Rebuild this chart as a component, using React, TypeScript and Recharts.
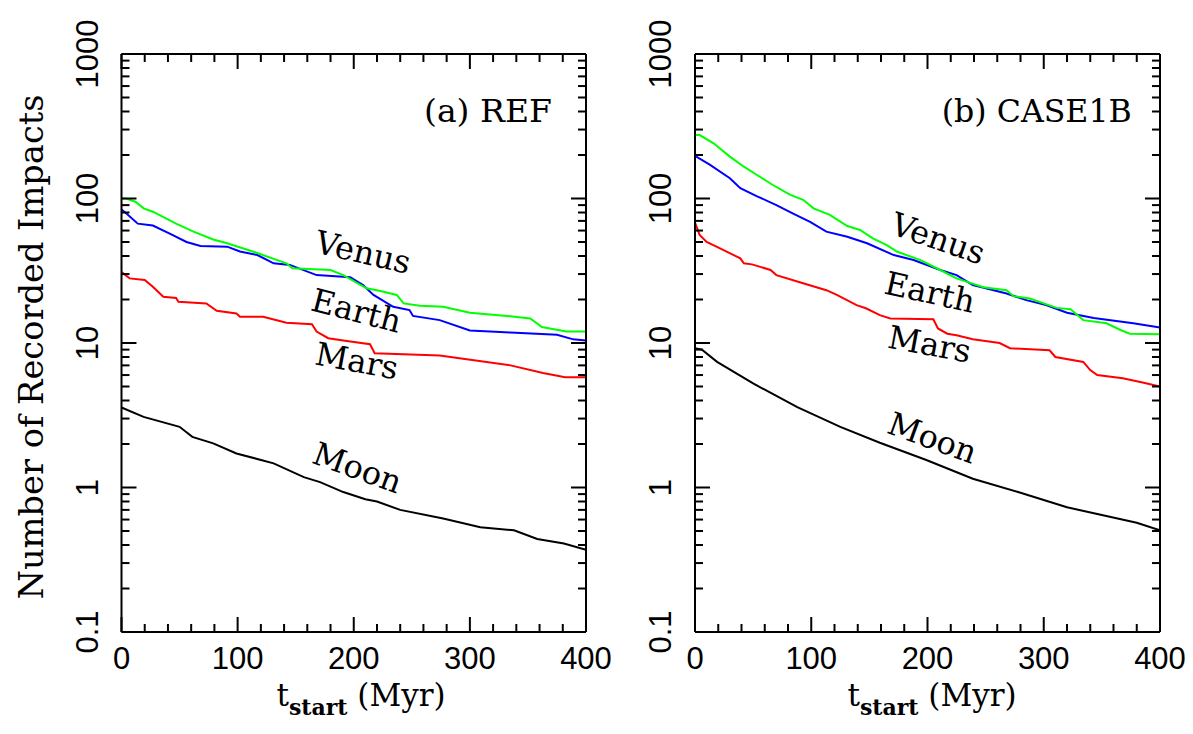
import { LineChart, Line, XAxis, YAxis, ReferenceDot } from 'recharts'

type Pt = { t: number; n: number }

// (a) REF
const refVenus: Pt[] = [
  { t: 0, n: 100 }, { t: 4, n: 100 }, { t: 12, n: 95 }, { t: 19, n: 85.5 }, { t: 27, n: 81 },
  { t: 47, n: 67 }, { t: 62, n: 59 }, { t: 79, n: 52 }, { t: 91, n: 49 }, { t: 113, n: 43 },
  { t: 142, n: 35.6 }, { t: 147, n: 32.9 }, { t: 180, n: 32 }, { t: 191, n: 29.5 }, { t: 211, n: 23.9 },
  { t: 223, n: 22.9 }, { t: 237, n: 21.5 }, { t: 243, n: 18.8 }, { t: 257, n: 18.1 }, { t: 277, n: 17.8 },
  { t: 300, n: 16.2 }, { t: 332, n: 15.4 }, { t: 352, n: 14.8 }, { t: 362, n: 12.9 }, { t: 383, n: 12 },
  { t: 400, n: 12 },
]
const refEarth: Pt[] = [
  { t: 0, n: 84 }, { t: 4, n: 79 }, { t: 14, n: 67 }, { t: 27, n: 65 }, { t: 42, n: 57 },
  { t: 56, n: 50 }, { t: 68, n: 47 }, { t: 91, n: 46.4 }, { t: 102, n: 43 }, { t: 117, n: 40.6 },
  { t: 131, n: 35.6 }, { t: 145, n: 34.7 }, { t: 168, n: 29.5 }, { t: 197, n: 28.5 }, { t: 208, n: 25.2 },
  { t: 217, n: 21.5 }, { t: 234, n: 17.8 }, { t: 248, n: 16.9 }, { t: 251, n: 15.4 }, { t: 274, n: 14.4 },
  { t: 300, n: 12.2 }, { t: 335, n: 11.8 }, { t: 375, n: 11.4 }, { t: 389, n: 10.6 }, { t: 400, n: 10.4 },
]
const refMars: Pt[] = [
  { t: 0, n: 31 }, { t: 7, n: 28 }, { t: 20, n: 27.3 }, { t: 27, n: 24.5 }, { t: 36, n: 20.9 },
  { t: 47, n: 20.5 }, { t: 49, n: 19.3 }, { t: 73, n: 18.8 }, { t: 82, n: 16.7 }, { t: 99, n: 16 },
  { t: 102, n: 15.2 }, { t: 122, n: 15.2 }, { t: 142, n: 13.8 }, { t: 164, n: 13.5 }, { t: 168, n: 12 },
  { t: 178, n: 10.8 }, { t: 191, n: 10.4 }, { t: 214, n: 9.8 }, { t: 218, n: 8.5 }, { t: 274, n: 8.2 },
  { t: 335, n: 7.0 }, { t: 363, n: 6.2 }, { t: 382, n: 5.8 }, { t: 400, n: 5.8 },
]
const refMoon: Pt[] = [
  { t: 0, n: 3.58 }, { t: 19, n: 3.08 }, { t: 50, n: 2.63 }, { t: 61, n: 2.24 }, { t: 79, n: 2.02 },
  { t: 99, n: 1.72 }, { t: 131, n: 1.47 }, { t: 157, n: 1.18 }, { t: 171, n: 1.09 }, { t: 191, n: 0.93 },
  { t: 210, n: 0.83 }, { t: 220, n: 0.8 }, { t: 240, n: 0.7 }, { t: 277, n: 0.61 }, { t: 309, n: 0.53 },
  { t: 338, n: 0.506 }, { t: 358, n: 0.44 }, { t: 381, n: 0.41 }, { t: 400, n: 0.37 },
]

// (b) CASE1B
const caseVenus: Pt[] = [
  { t: 0, n: 275 }, { t: 4, n: 275 }, { t: 16, n: 241 }, { t: 30, n: 195 }, { t: 42, n: 166 },
  { t: 53, n: 146 }, { t: 67, n: 124 }, { t: 82, n: 106 }, { t: 93, n: 98 }, { t: 102, n: 85.5 },
  { t: 116, n: 77 }, { t: 131, n: 64.5 }, { t: 142, n: 60.5 }, { t: 153, n: 53 }, { t: 165, n: 47.6 },
  { t: 174, n: 42.8 }, { t: 194, n: 37.5 }, { t: 208, n: 32.9 }, { t: 225, n: 28 }, { t: 248, n: 24.3 },
  { t: 268, n: 23.2 }, { t: 274, n: 21.1 }, { t: 288, n: 20.3 }, { t: 311, n: 17.5 }, { t: 323, n: 17.1 },
  { t: 334, n: 14.4 }, { t: 354, n: 13.7 }, { t: 366, n: 12.3 }, { t: 374, n: 11.6 }, { t: 400, n: 11.5 },
]
const caseEarth: Pt[] = [
  { t: 0, n: 197 }, { t: 13, n: 171 }, { t: 30, n: 138 }, { t: 39, n: 118 }, { t: 53, n: 104 },
  { t: 70, n: 90 }, { t: 84, n: 79 }, { t: 99, n: 69 }, { t: 113, n: 59 }, { t: 131, n: 54.4 },
  { t: 148, n: 49 }, { t: 171, n: 40.6 }, { t: 188, n: 37.5 }, { t: 211, n: 32 }, { t: 225, n: 29.5 },
  { t: 239, n: 25.2 }, { t: 268, n: 22 }, { t: 285, n: 19.8 }, { t: 302, n: 18.3 }, { t: 320, n: 16.2 },
  { t: 343, n: 14.9 }, { t: 377, n: 13.7 }, { t: 400, n: 12.8 },
]
const caseMars: Pt[] = [
  { t: 0, n: 68 }, { t: 4, n: 56 }, { t: 10, n: 50 }, { t: 22, n: 45 }, { t: 39, n: 38.5 },
  { t: 42, n: 35.6 }, { t: 49, n: 35 }, { t: 65, n: 32 }, { t: 70, n: 29.5 }, { t: 93, n: 25.9 },
  { t: 113, n: 23.2 }, { t: 122, n: 21.5 }, { t: 139, n: 18.3 }, { t: 147, n: 17.4 }, { t: 159, n: 15.6 },
  { t: 168, n: 14.8 }, { t: 205, n: 14.6 }, { t: 209, n: 12.6 }, { t: 217, n: 11.6 }, { t: 225, n: 11.3 },
  { t: 239, n: 10.6 }, { t: 262, n: 10 }, { t: 271, n: 9.2 }, { t: 305, n: 8.9 }, { t: 310, n: 8.0 },
  { t: 334, n: 7.4 }, { t: 340, n: 6.5 }, { t: 346, n: 6.0 }, { t: 368, n: 5.7 }, { t: 386, n: 5.3 },
  { t: 400, n: 5.0 },
]
const caseMoon: Pt[] = [
  { t: 0, n: 9.2 }, { t: 6, n: 9.0 }, { t: 19, n: 7.4 }, { t: 50, n: 5.25 }, { t: 88, n: 3.6 },
  { t: 125, n: 2.63 }, { t: 159, n: 2.04 }, { t: 199, n: 1.55 }, { t: 239, n: 1.15 }, { t: 280, n: 0.92 },
  { t: 320, n: 0.73 }, { t: 348, n: 0.65 }, { t: 380, n: 0.57 }, { t: 400, n: 0.506 },
]

const xTicks = [0, 20, 40, 60, 80, 100, 120, 140, 160, 180, 200, 220, 240, 260, 280, 300, 320, 340, 360, 380, 400]
const xMajor = [0, 100, 200, 300, 400]
const yTicks = [
  0.1, 0.2, 0.3, 0.4, 0.5, 0.6, 0.7, 0.8, 0.9,
  1, 2, 3, 4, 5, 6, 7, 8, 9,
  10, 20, 30, 40, 50, 60, 70, 80, 90,
  100, 200, 300, 400, 500, 600, 700, 800, 900,
  1000,
]
const yMajor = [0.1, 1, 10, 100, 1000]

// curve labels: [text, t, n, angle]
const refLabels: [string, number, number, number][] = [
  ['Venus', 206, 35.7, 13],
  ['Earth', 200, 14.1, 14.5],
  ['Mars', 201, 6.3, 10.5],
  ['Moon', 200, 1.16, 20],
]
const caseLabels: [string, number, number, number][] = [
  ['Venus', 206, 44.7, 19],
  ['Earth', 200, 18.9, 12.5],
  ['Mars', 200, 8.25, 10.5],
  ['Moon', 201, 1.87, 20],
]

const SERIF = "'DejaVu Serif', serif"
const SANS = "'Liberation Sans', Arial, sans-serif"
const INK = '#000'

const isMajorY = (v: number) => yMajor.some((m) => Math.abs(m - v) < 1e-9)

const BottomTick = ({ x, y, payload }: any) => {
  const major = xMajor.includes(payload.value)
  return (
    <g>
      <line x1={x} x2={x} y1={y} y2={y - (major ? 15 : 8)} stroke={INK} strokeWidth={2} />
      {major && (
        <text x={x} y={y + 37} textAnchor="middle" fontFamily={SANS} fontSize={31} fill={INK}>
          {payload.value}
        </text>
      )}
    </g>
  )
}

const TopTick = ({ x, y, payload }: any) => {
  const major = xMajor.includes(payload.value)
  return <line x1={x} x2={x} y1={y} y2={y + (major ? 15 : 8)} stroke={INK} strokeWidth={2} />
}

const LeftTick = ({ x, y, payload }: any) => {
  const major = isMajorY(payload.value)
  return (
    <g>
      <line x1={x} x2={x + (major ? 15 : 8)} y1={y} y2={y} stroke={INK} strokeWidth={2} />
      {major && (
        <text
          transform={`translate(${x - 24},${y}) rotate(-90)`}
          textAnchor="middle"
          fontFamily={SANS}
          fontSize={31}
          fill={INK}
        >
          {String(payload.value)}
        </text>
      )}
    </g>
  )
}

const RightTick = ({ x, y, payload }: any) => {
  const major = isMajorY(payload.value)
  return <line x1={x} x2={x - (major ? 15 : 8)} y1={y} y2={y} stroke={INK} strokeWidth={2} />
}

const curveLabel = (text: string, angle: number, width?: number) => (p: any) => (
  <text
    x={p.cx}
    y={p.cy}
    transform={`rotate(${angle} ${p.cx} ${p.cy})`}
    textAnchor="middle"
    fontFamily={SERIF}
    fontSize={32}
    fill={INK}
    textLength={width}
    lengthAdjust="spacingAndGlyphs"
  >
    {text}
  </text>
)

interface PanelProps {
  width: number
  left: number
  right: number
  venus: Pt[]
  earth: Pt[]
  mars: Pt[]
  moon: Pt[]
  labels: [string, number, number, number][]
  title: string
  titleAt: [number, number]
  titleWidth: number
}

function Panel({ width, left, right, venus, earth, mars, moon, labels, title, titleAt, titleWidth }: PanelProps) {
  const axisLine = { stroke: INK, strokeWidth: 2 }
  const series: [Pt[], string][] = [
    [moon, '#000000'],
    [mars, '#ff0000'],
    [earth, '#0000ff'],
    [venus, '#00ff00'],
  ]
  return (
    <LineChart
      width={width}
      height={734}
      margin={{ top: 53, right, bottom: 42, left }}
      style={{ overflow: 'visible' }}
    >
      <XAxis
        xAxisId="b"
        dataKey="t"
        type="number"
        domain={[0, 400]}
        allowDataOverflow
        ticks={xTicks}
        interval={0}
        height={60}
        tickSize={0}
        tickMargin={0}
        tickLine={false}
        axisLine={axisLine}
        tick={<BottomTick />}
      />
      <XAxis
        xAxisId="t"
        orientation="top"
        dataKey="t"
        type="number"
        domain={[0, 400]}
        allowDataOverflow
        ticks={xTicks}
        interval={0}
        height={1}
        tickSize={0}
        tickMargin={0}
        tickLine={false}
        axisLine={axisLine}
        tick={<TopTick />}
      />
      <YAxis
        yAxisId="l"
        type="number"
        scale="log"
        domain={[0.1, 1000]}
        allowDataOverflow
        ticks={yTicks}
        interval={0}
        width={60}
        tickSize={0}
        tickMargin={0}
        tickLine={false}
        axisLine={axisLine}
        tick={<LeftTick />}
      />
      <YAxis
        yAxisId="r"
        orientation="right"
        type="number"
        scale="log"
        domain={[0.1, 1000]}
        allowDataOverflow
        ticks={yTicks}
        interval={0}
        width={1}
        tickSize={0}
        tickMargin={0}
        tickLine={false}
        axisLine={axisLine}
        tick={<RightTick />}
      />
      {series.map(([data, color], i) => (
        <Line
          key={i}
          xAxisId="b"
          yAxisId="l"
          data={data}
          dataKey="n"
          type="linear"
          stroke={color}
          strokeWidth={2}
          dot={false}
          isAnimationActive={false}
        />
      ))}
      {labels.map(([text, t, n, angle]) => (
        <ReferenceDot
          key={text}
          xAxisId="b"
          yAxisId="l"
          x={t}
          y={n}
          r={0}
          shape={curveLabel(text, angle)}
        />
      ))}
      <ReferenceDot
        xAxisId="b"
        yAxisId="l"
        x={titleAt[0]}
        y={titleAt[1]}
        r={0}
        shape={curveLabel(title, 0, titleWidth)}
      />
    </LineChart>
  )
}

const XTitle = ({ cx }: { cx: number }) => (
  <text x={cx} y={706} textAnchor="middle" fontFamily={SERIF} fontSize={31} fill={INK}>
    <tspan>t</tspan>
    <tspan fontSize={22} fontWeight="bold" dy={9}>start</tspan>
    <tspan dy={-9}>{'\u00a0(Myr)'}</tspan>
  </text>
)

export default function App() {
  return (
    <div style={{ position: 'absolute', left: 0, top: 0, width: 1193, height: 734, background: '#fff' }}>
      <style>{'.recharts-surface{overflow:visible}'}</style>
      <div style={{ position: 'absolute', left: 0, top: 0, zIndex: 2 }}>
        <Panel
          width={600}
          left={61.5}
          right={13}
          venus={refVenus}
          earth={refEarth}
          mars={refMars}
          moon={refMoon}
          labels={refLabels}
          title="(a) REF"
          titleAt={[315.6, 340]}
          titleWidth={128}
        />
      </div>
      <div style={{ position: 'absolute', left: 600, top: 0, zIndex: 1 }}>
        <Panel
          width={593}
          left={35}
          right={32}
          venus={caseVenus}
          earth={caseEarth}
          mars={caseMars}
          moon={caseMoon}
          labels={caseLabels}
          title="(b) CASE1B"
          titleAt={[294, 340]}
          titleWidth={190}
        />
      </div>
      <svg
        width={1193}
        height={734}
        style={{ position: 'absolute', left: 0, top: 0, pointerEvents: 'none', zIndex: 3 }}
      >
        <text
          transform="translate(43,347) rotate(-90)"
          textAnchor="middle"
          fontFamily={SERIF}
          fontSize={33}
          fill={INK}
          textLength={505}
          lengthAdjust="spacingAndGlyphs"
        >
          Number of Recorded Impacts
        </text>
        <XTitle cx={361} />
        <XTitle cx={932} />
      </svg>
    </div>
  )
}
